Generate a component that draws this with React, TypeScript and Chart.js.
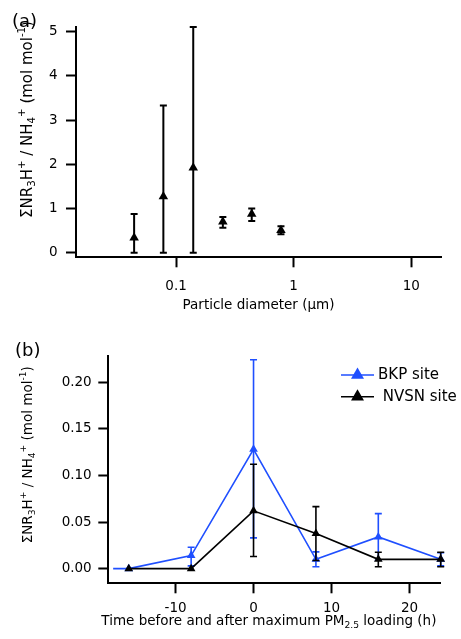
import React, { useEffect, useRef } from "react";
import { Chart, registerables } from "chart.js";

Chart.register(...registerables);

// ---------- Panel (a) data ----------
const diameterUm = [0.044, 0.078, 0.14, 0.25, 0.44, 0.78];
const ratioA = [0.34, 1.27, 1.92, 0.7, 0.875, 0.51];
const ratioALow = [0, 0, 0, 0.57, 0.72, 0.42];
const ratioAHigh = [0.875, 3.33, 5.1, 0.81, 1.0, 0.6];
const xTicksA = [0.1, 1, 10];
const yTicksA = [0, 1, 2, 3, 4, 5];

// ---------- Panel (b) data ----------
const hoursBKP = [-18, -16, -8, 0, 8, 16, 24];
const ratioBKP = [0, 0, 0.014, 0.128, 0.01, 0.034, 0.01];
const lowBKP = [null, null, 0.003, 0.033, 0.002, 0.009, 0.003];
const highBKP = [null, null, 0.023, 0.224, 0.018, 0.059, 0.017];

const hoursNVSN = [-16, -8, 0, 8, 16, 24];
const ratioNVSN = [0, 0, 0.062, 0.0376, 0.01, 0.01];
const lowNVSN = [null, null, 0.013, 0.0087, 0.002, 0.002];
const highNVSN = [null, null, 0.112, 0.0665, 0.0176, 0.0176];

const xTicksB = [-10, 0, 10, 20];
const yTicksB = [0, 0.05, 0.1, 0.15, 0.2];

const seriesLabels = ["BKP site", " NVSN site"];

const BLUE = "#1f4fff";
const BLACK = "#000000";
const FONT = "'DejaVu Sans', Verdana, sans-serif";

type Run = { t: string; s?: "sub" | "sup" };
const yTitleRuns: Run[] = [
  { t: "ΣNR" },
  { t: "3", s: "sub" },
  { t: "H" },
  { t: "+", s: "sup" },
  { t: " / NH" },
  { t: "4", s: "sub" },
  { t: "+", s: "sup" },
  { t: " (mol mol" },
  { t: "-1", s: "sup" },
  { t: ")" },
];
const xTitleBRuns: Run[] = [
  { t: "Time before and after maximum PM" },
  { t: "2.5", s: "sub" },
  { t: " loading (h)" },
];

function drawRich(
  ctx: CanvasRenderingContext2D,
  runs: Run[],
  x: number,
  y: number,
  size: number,
  align: "left" | "center",
  rotate: boolean
) {
  const small = size * 0.68;
  const widths = runs.map((r) => {
    ctx.font = `${r.s ? small : size}px ${FONT}`;
    return ctx.measureText(r.t).width;
  });
  const total = widths.reduce((a, b) => a + b, 0);
  ctx.save();
  ctx.translate(x, y);
  if (rotate) ctx.rotate(-Math.PI / 2);
  ctx.fillStyle = "#000";
  ctx.textBaseline = "alphabetic";
  ctx.textAlign = "left";
  let cx = align === "center" ? -total / 2 : 0;
  runs.forEach((r, i) => {
    ctx.font = `${r.s ? small : size}px ${FONT}`;
    const dy = r.s === "sup" ? -size * 0.45 : r.s === "sub" ? size * 0.22 : 0;
    ctx.fillText(r.t, cx, dy);
    cx += widths[i];
  });
  ctx.restore();
}

const annotPlugin = {
  id: "annot",
  afterDraw(chart: any, _args: any, opts: any) {
    const ctx = chart.ctx as CanvasRenderingContext2D;
    (opts.items || []).forEach((it: any) =>
      drawRich(ctx, it.runs, it.x, it.y, it.size, it.align, !!it.rotate)
    );
  },
};

const errorBarPlugin = {
  id: "errorBars",
  afterDatasetDraw(chart: any, args: any) {
    const ds: any = chart.data.datasets[args.index];
    if (!ds.errLow) return;
    const xs = chart.scales.x;
    const ys = chart.scales.y;
    const ctx = chart.ctx as CanvasRenderingContext2D;
    const cap = 3.5;
    ctx.save();
    ctx.strokeStyle = ds.borderColor;
    ctx.lineWidth = ds.errWidth || 1.5;
    ds.data.forEach((p: any, i: number) => {
      const lo = ds.errLow[i];
      const hi = ds.errHigh[i];
      if (lo == null || hi == null) return;
      const px = xs.getPixelForValue(p.x);
      const y1 = ys.getPixelForValue(lo);
      const y2 = ys.getPixelForValue(hi);
      ctx.beginPath();
      ctx.moveTo(px, y1);
      ctx.lineTo(px, y2);
      ctx.moveTo(px - cap, y1);
      ctx.lineTo(px + cap, y1);
      ctx.moveTo(px - cap, y2);
      ctx.lineTo(px + cap, y2);
      ctx.stroke();
    });
    ctx.restore();
  },
};

function triangle(ctx: CanvasRenderingContext2D, x: number, y: number, r: number) {
  let rad = 0;
  ctx.beginPath();
  ctx.moveTo(x + Math.sin(rad) * r, y - Math.cos(rad) * r);
  rad += (2 * Math.PI) / 3;
  ctx.lineTo(x + Math.sin(rad) * r, y - Math.cos(rad) * r);
  rad += (2 * Math.PI) / 3;
  ctx.lineTo(x + Math.sin(rad) * r, y - Math.cos(rad) * r);
  ctx.closePath();
  ctx.fill();
}

const lineLegendPlugin = {
  id: "lineLegend",
  afterDraw(chart: any, _args: any, opts: any) {
    const ctx = chart.ctx as CanvasRenderingContext2D;
    const { x, y, rowH, lineLen, gap, size } = opts;
    chart.data.datasets.forEach((ds: any, i: number) => {
      const yy = y + i * rowH;
      ctx.save();
      ctx.strokeStyle = ds.borderColor;
      ctx.fillStyle = ds.borderColor;
      ctx.lineWidth = 1.6;
      ctx.beginPath();
      ctx.moveTo(x, yy);
      ctx.lineTo(x + lineLen, yy);
      ctx.stroke();
      triangle(ctx, x + lineLen / 2, yy, 7.5);
      ctx.fillStyle = "#000";
      ctx.font = `${size}px ${FONT}`;
      ctx.textBaseline = "middle";
      ctx.textAlign = "left";
      ctx.fillText(ds.label, x + lineLen + gap, yy + 0.5);
      ctx.restore();
    });
  },
};

function axisCommon(tickLen: number, pad: number) {
  return {
    grid: {
      display: true,
      drawOnChartArea: false,
      drawTicks: true,
      tickLength: tickLen,
      tickColor: BLACK,
      tickWidth: 2,
    },
    border: { display: true, color: BLACK, width: 2 },
    ticks: {
      color: BLACK,
      font: { family: FONT, size: 13.5 },
      padding: pad,
      autoSkip: false,
      maxRotation: 0,
      minRotation: 0,
    },
  };
}

function configA(): any {
  const xc = axisCommon(10, 11.5);
  const yc = axisCommon(10, 8.5);
  return {
    type: "scatter",
    data: {
      datasets: [
        {
          label: "size-resolved",
          data: diameterUm.map((d, i) => ({ x: d, y: ratioA[i] })),
          errLow: ratioALow,
          errHigh: ratioAHigh,
          errWidth: 2,
          borderColor: BLACK,
          backgroundColor: BLACK,
          pointStyle: "triangle",
          pointRadius: 5.5,
          pointBorderWidth: 0,
          showLine: false,
          clip: false,
        },
      ],
    },
    options: {
      responsive: false,
      animation: false,
      events: [],
      layout: { padding: { left: 0, right: 20, top: 27, bottom: 0 } },
      plugins: {
        legend: { display: false },
        tooltip: { enabled: false },
        annot: {
          items: [
            { runs: [{ t: "(a)" }], x: 12, y: 27, size: 18, align: "left" },
            { runs: yTitleRuns, x: 32, y: 119.5, size: 15, align: "center", rotate: true },
            { runs: [{ t: "Particle diameter (μm)" }], x: 258.5, y: 309, size: 13.5, align: "center" },
          ],
        },
      },
      scales: {
        x: {
          type: "logarithmic",
          min: 0.0141,
          max: 17.9,
          afterBuildTicks: (s: any) => {
            s.ticks = xTicksA.map((v) => ({ value: v }));
          },
          afterFit: (s: any) => {
            s.height = 62.7;
          },
          ...xc,
          ticks: { ...xc.ticks, callback: (v: any) => String(v) },
        },
        y: {
          type: "linear",
          min: -0.1,
          max: 5.1,
          afterBuildTicks: (s: any) => {
            s.ticks = yTicksA.map((v) => ({ value: v }));
          },
          afterFit: (s: any) => {
            s.width = 76;
          },
          ...yc,
          ticks: { ...yc.ticks, callback: (v: any) => String(v) },
        },
      },
    },
    plugins: [errorBarPlugin, annotPlugin],
  };
}

function configB(): any {
  const xc = axisCommon(10, 7.5);
  const yc = axisCommon(9.4, 6.6);
  return {
    type: "scatter",
    data: {
      datasets: [
        {
          label: seriesLabels[0],
          data: hoursBKP.map((h, i) => ({ x: h, y: ratioBKP[i] })),
          errLow: lowBKP,
          errHigh: highBKP,
          errWidth: 1.6,
          borderColor: BLUE,
          backgroundColor: BLUE,
          borderWidth: 1.6,
          pointStyle: "triangle",
          pointRadius: (c: any) => (c.dataIndex === 0 ? 0 : 5),
          pointBorderWidth: 0,
          showLine: true,
          tension: 0,
          clip: false,
          order: 1,
        },
        {
          label: seriesLabels[1],
          data: hoursNVSN.map((h, i) => ({ x: h, y: ratioNVSN[i] })),
          errLow: lowNVSN,
          errHigh: highNVSN,
          errWidth: 1.6,
          borderColor: BLACK,
          backgroundColor: BLACK,
          borderWidth: 1.6,
          pointStyle: "triangle",
          pointRadius: 5,
          pointBorderWidth: 0,
          showLine: true,
          tension: 0,
          clip: false,
          order: 0,
        },
      ],
    },
    options: {
      responsive: false,
      animation: false,
      events: [],
      layout: { padding: { left: 0, right: 20.3, top: 36, bottom: 0 } },
      plugins: {
        legend: { display: false },
        tooltip: { enabled: false },
        lineLegend: { x: 341, y: 55, rowH: 21.7, lineLen: 33, gap: 4, size: 15 },
        annot: {
          items: [
            { runs: [{ t: "(b)" }], x: 15, y: 35.5, size: 18, align: "left" },
            { runs: yTitleRuns, x: 31.7, y: 134.7, size: 13.5, align: "center", rotate: true },
            { runs: xTitleBRuns, x: 268.9, y: 305, size: 13.5, align: "center" },
          ],
        },
      },
      scales: {
        x: {
          type: "linear",
          min: -18.7,
          max: 24,
          afterBuildTicks: (s: any) => {
            s.ticks = xTicksB.map((v) => ({ value: v }));
          },
          afterFit: (s: any) => {
            s.height = 55.7;
          },
          ...xc,
          ticks: { ...xc.ticks, callback: (v: any) => String(v) },
        },
        y: {
          type: "linear",
          min: -0.0157,
          max: 0.228,
          afterBuildTicks: (s: any) => {
            s.ticks = yTicksB.map((v) => ({ value: v }));
          },
          afterFit: (s: any) => {
            s.width = 107.7;
          },
          ...yc,
          ticks: { ...yc.ticks, callback: (v: any) => Number(v).toFixed(2) },
        },
      },
    },
    plugins: [errorBarPlugin, annotPlugin, lineLegendPlugin],
  };
}

function ChartCanvas(props: { make: () => any; width: number; height: number; top: number }) {
  const ref = useRef<HTMLCanvasElement | null>(null);
  useEffect(() => {
    if (!ref.current) return;
    const chart = new Chart(ref.current, props.make());
    return () => chart.destroy();
  }, []);
  return (
    <canvas
      ref={ref}
      width={props.width}
      height={props.height}
      style={{
        position: "absolute",
        left: 0,
        top: props.top,
        width: props.width,
        height: props.height,
        display: "block",
      }}
    />
  );
}

export default function App() {
  return (
    <div
      style={{
        position: "absolute",
        left: 0,
        top: 0,
        width: 461,
        height: 639,
        background: "#ffffff",
        overflow: "hidden",
      }}
    >
      <ChartCanvas make={configA} width={461} height={320} top={0} />
      <ChartCanvas make={configB} width={461} height={319} top={320} />
    </div>
  );
}
